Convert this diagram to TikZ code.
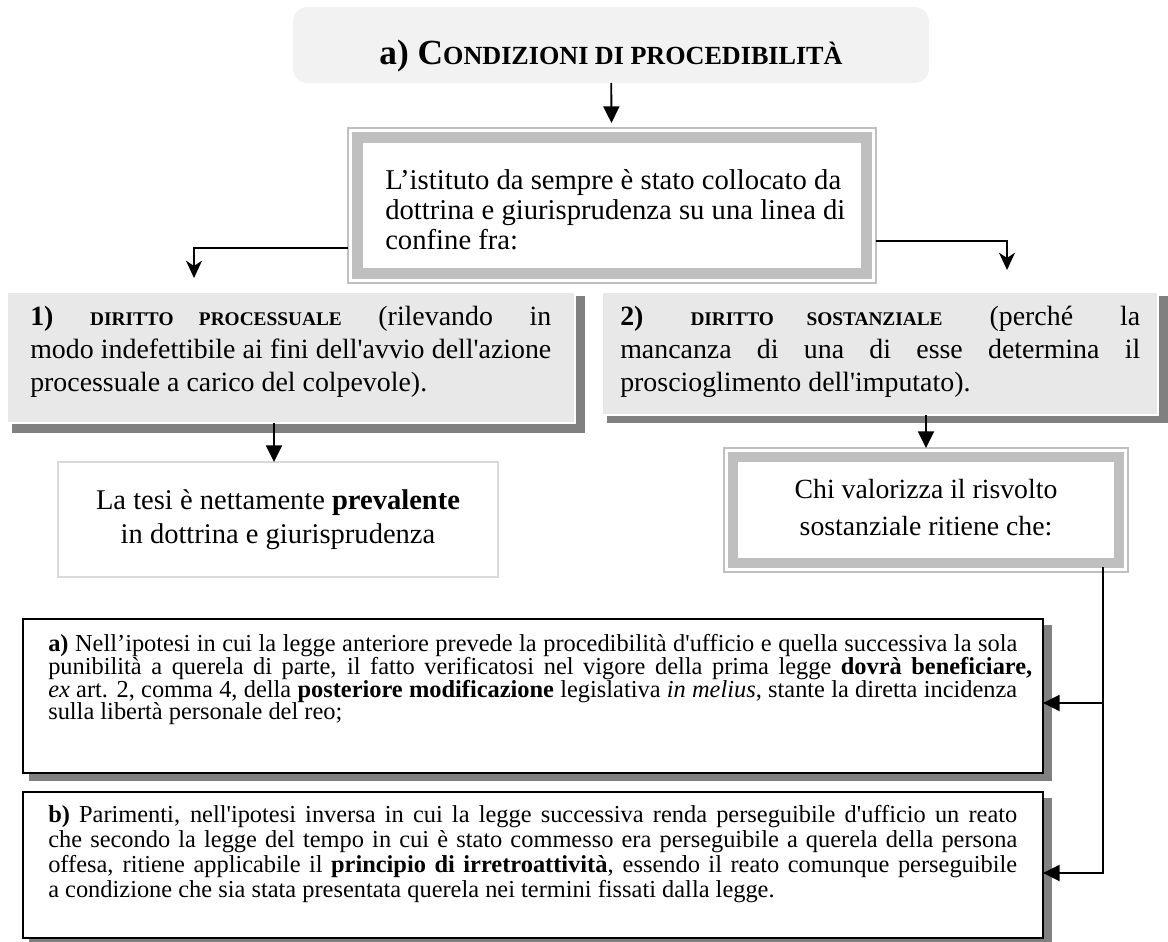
\documentclass[tikz,border=0pt]{standalone}
\usepackage{fontspec}
\setmainfont[Ligatures=TeXOff]{Liberation Serif}
\usetikzlibrary{arrows.meta,calc,fit}
\definecolor{topfill}{HTML}{F2F2F2}
\definecolor{boxfill}{HTML}{E8E8E8}
\definecolor{shadowgray}{HTML}{808080}
\definecolor{framegray}{HTML}{BFBFBF}
\definecolor{lightframe}{HTML}{D9D9D9}
\newcommand\smc[2]{{\fontsize{#1}{#1}\selectfont #2}}
\newcommand\jline[2]{\makebox[#1][s]{\spaceskip=0pt\relax\xspaceskip=0pt\relax #2}}
\begin{document}
\begin{tikzpicture}[x=0.75pt,y=-0.75pt,
  shapebox/.style={inner sep=0pt, outer sep=0pt},
  topbox/.style={shapebox, fill=topfill, rounded corners=11pt},
  framed/.style={shapebox, draw=framegray, line width=1.1pt, fill=white},
  greybox/.style={shapebox, fill=boxfill, draw=white, line width=1.1pt},
  blackbox/.style={shapebox, fill=white, draw=black, line width=2pt},
  lightbox/.style={shapebox, fill=white, draw=lightframe, line width=1.9pt},
  conn/.style={line width=1.4pt, draw=black},
  arr/.style={conn, -{Triangle[length=12.5pt,width=12pt]}},
  sarr/.style={conn, -{Stealth[length=13pt,width=12pt,inset=4pt]}},
  lefttext/.style={inner sep=0pt, align=flush left},
  centertext/.style={inner sep=0pt, align=flush center},
  bodytxt/.style={lefttext, font=\fontsize{20.9pt}{24.75pt}\selectfont},
]
\useasboundingbox (0,0) rectangle (1168,942);

% shadows
\fill[shadowgray] (12,296) rectangle (585,433);
\fill[shadowgray] (607,296) rectangle (1168,423);
\fill[shadowgray] (29,625) rectangle (1052,781);
\fill[shadowgray] (29,798) rectangle (1052,950);

% boxes
\node[topbox, fit={(293,7) (929,83)}] (top) {};
\node[framed, fit={(348,128) (876,283)}] (mid) {};
\draw[framegray, line width=8.25pt] ($(mid.north west)+(9.5,9.5)$) rectangle ($(mid.south east)+(-9.5,-9.5)$);
\node[greybox, fit={(7,292) (575,423)}] (left) {};
\node[greybox, fit={(602,292) (1158,415)}] (right) {};
\node[lightbox, fit={(58,462) (498,577)}] (tesi) {};
\node[framed, fit={(724,448) (1128,572)}] (chi) {};
\draw[framegray, line width=7.5pt] ($(chi.north west)+(9,9)$) rectangle ($(chi.south east)+(-9,-9)$);
\node[blackbox, fit={(23,619) (1043,773)}] (abox) {};
\node[blackbox, fit={(23,792) (1043,938)}] (bbox) {};

% texts
\node[inner sep=0pt, font=\fontsize{26.5pt}{30pt}\selectfont\bfseries] (ttl) at (611,56)
  {a) C\smc{19.6pt}{ONDIZIONI DI PROCEDIBILITÀ}};

\node[lefttext, anchor=west, font=\fontsize{21.5pt}{22.5pt}\selectfont] (midtxt) at (385,210)
  {L’istituto da sempre è stato collocato da\\
   dottrina e giurisprudenza su una linea di\\
   confine fra:};

\node[bodytxt, text width=390.75pt, anchor=west] (lefttxt) at (30,352)
  {\jline{390.75pt}{\textbf{1)} \textbf{\smc{14.5pt}{DIRITTO PROCESSUALE}} (rilevando in}\\
   \jline{390.75pt}{modo indefettibile ai fini dell'avvio dell'azione}\\
   processuale a carico del colpevole).};

\node[bodytxt, text width=390pt, anchor=west] (righttxt) at (620,352)
  {\jline{390pt}{\textbf{2)} \textbf{\smc{14.5pt}{DIRITTO SOSTANZIALE}} (perché la}\\
   \jline{390pt}{mancanza di una di esse determina il}\\
   proscioglimento dell'imputato).};

\node[centertext, font=\fontsize{21.4pt}{25.5pt}\selectfont] (tesitxt) at (278,520)
  {La tesi è nettamente \textbf{prevalente}\\ in dottrina e giurisprudenza};

\node[centertext, font=\fontsize{20.8pt}{27.75pt}\selectfont] (chitxt) at (926,508)
  {Chi valorizza il risvolto\\ sostanziale ritiene che:};

\node[lefttext, anchor=west, font=\fontsize{18.3pt}{17pt}\selectfont] (atxt) at (48,680)
  {\jline{726.75pt}{\textbf{a)} Nell’ipotesi in cui la legge anteriore prevede la procedibilità d'ufficio e quella successiva la sola}\\
   \jline{738pt}{punibilità a querela di parte, il fatto verificatosi nel vigore della prima legge \textbf{dovrà beneficiare,}}\\
   \jline{726.75pt}{\textit{ex} art. 2, comma 4, della \textbf{posteriore modificazione} legislativa \textit{in melius}, stante la diretta incidenza}\\
   sulla libertà personale del reo;};

\node[lefttext, anchor=west, font=\fontsize{18.3pt}{18.75pt}\selectfont] (btxt) at (48,854)
  {\jline{726.75pt}{\textbf{b)} Parimenti, nell'ipotesi inversa in cui la legge successiva renda perseguibile d'ufficio un reato}\\
   \jline{726.75pt}{che secondo la legge del tempo in cui è stato commesso era perseguibile a querela della persona}\\
   \jline{726.75pt}{offesa, ritiene applicabile il \textbf{principio di irretroattività}, essendo il reato comunque perseguibile}\\
   a condizione che sia stata presentata querela nei termini fissati dalla legge.};

% connectors
\draw[arr, shorten >=3.75pt] (top) -- (mid);
\draw[sarr, shorten >=10.5pt] ($(mid.west)+(0,42.5)$) -| ($(left.north)+(-97,0)$);
\draw[sarr, shorten >=16.5pt] ($(mid.east)+(0,35.5)$) -| ($(right.north)+(127,0)$);
\draw[arr] ($(tesi.north |- left.south)+(-4,0)$) -- ($(tesi.north)+(-4,0)$);
\draw[arr] (chi.north |- right.south) -- (chi.north);
\draw[arr] ($(chi.south east)+(-25,-5)$) |- ($(abox.east)+(0,7)$);
\draw[arr] ($(chi.south east)+(-25,-5)$) |- ($(bbox.east)+(0,8)$);
\end{tikzpicture}
\end{document}
